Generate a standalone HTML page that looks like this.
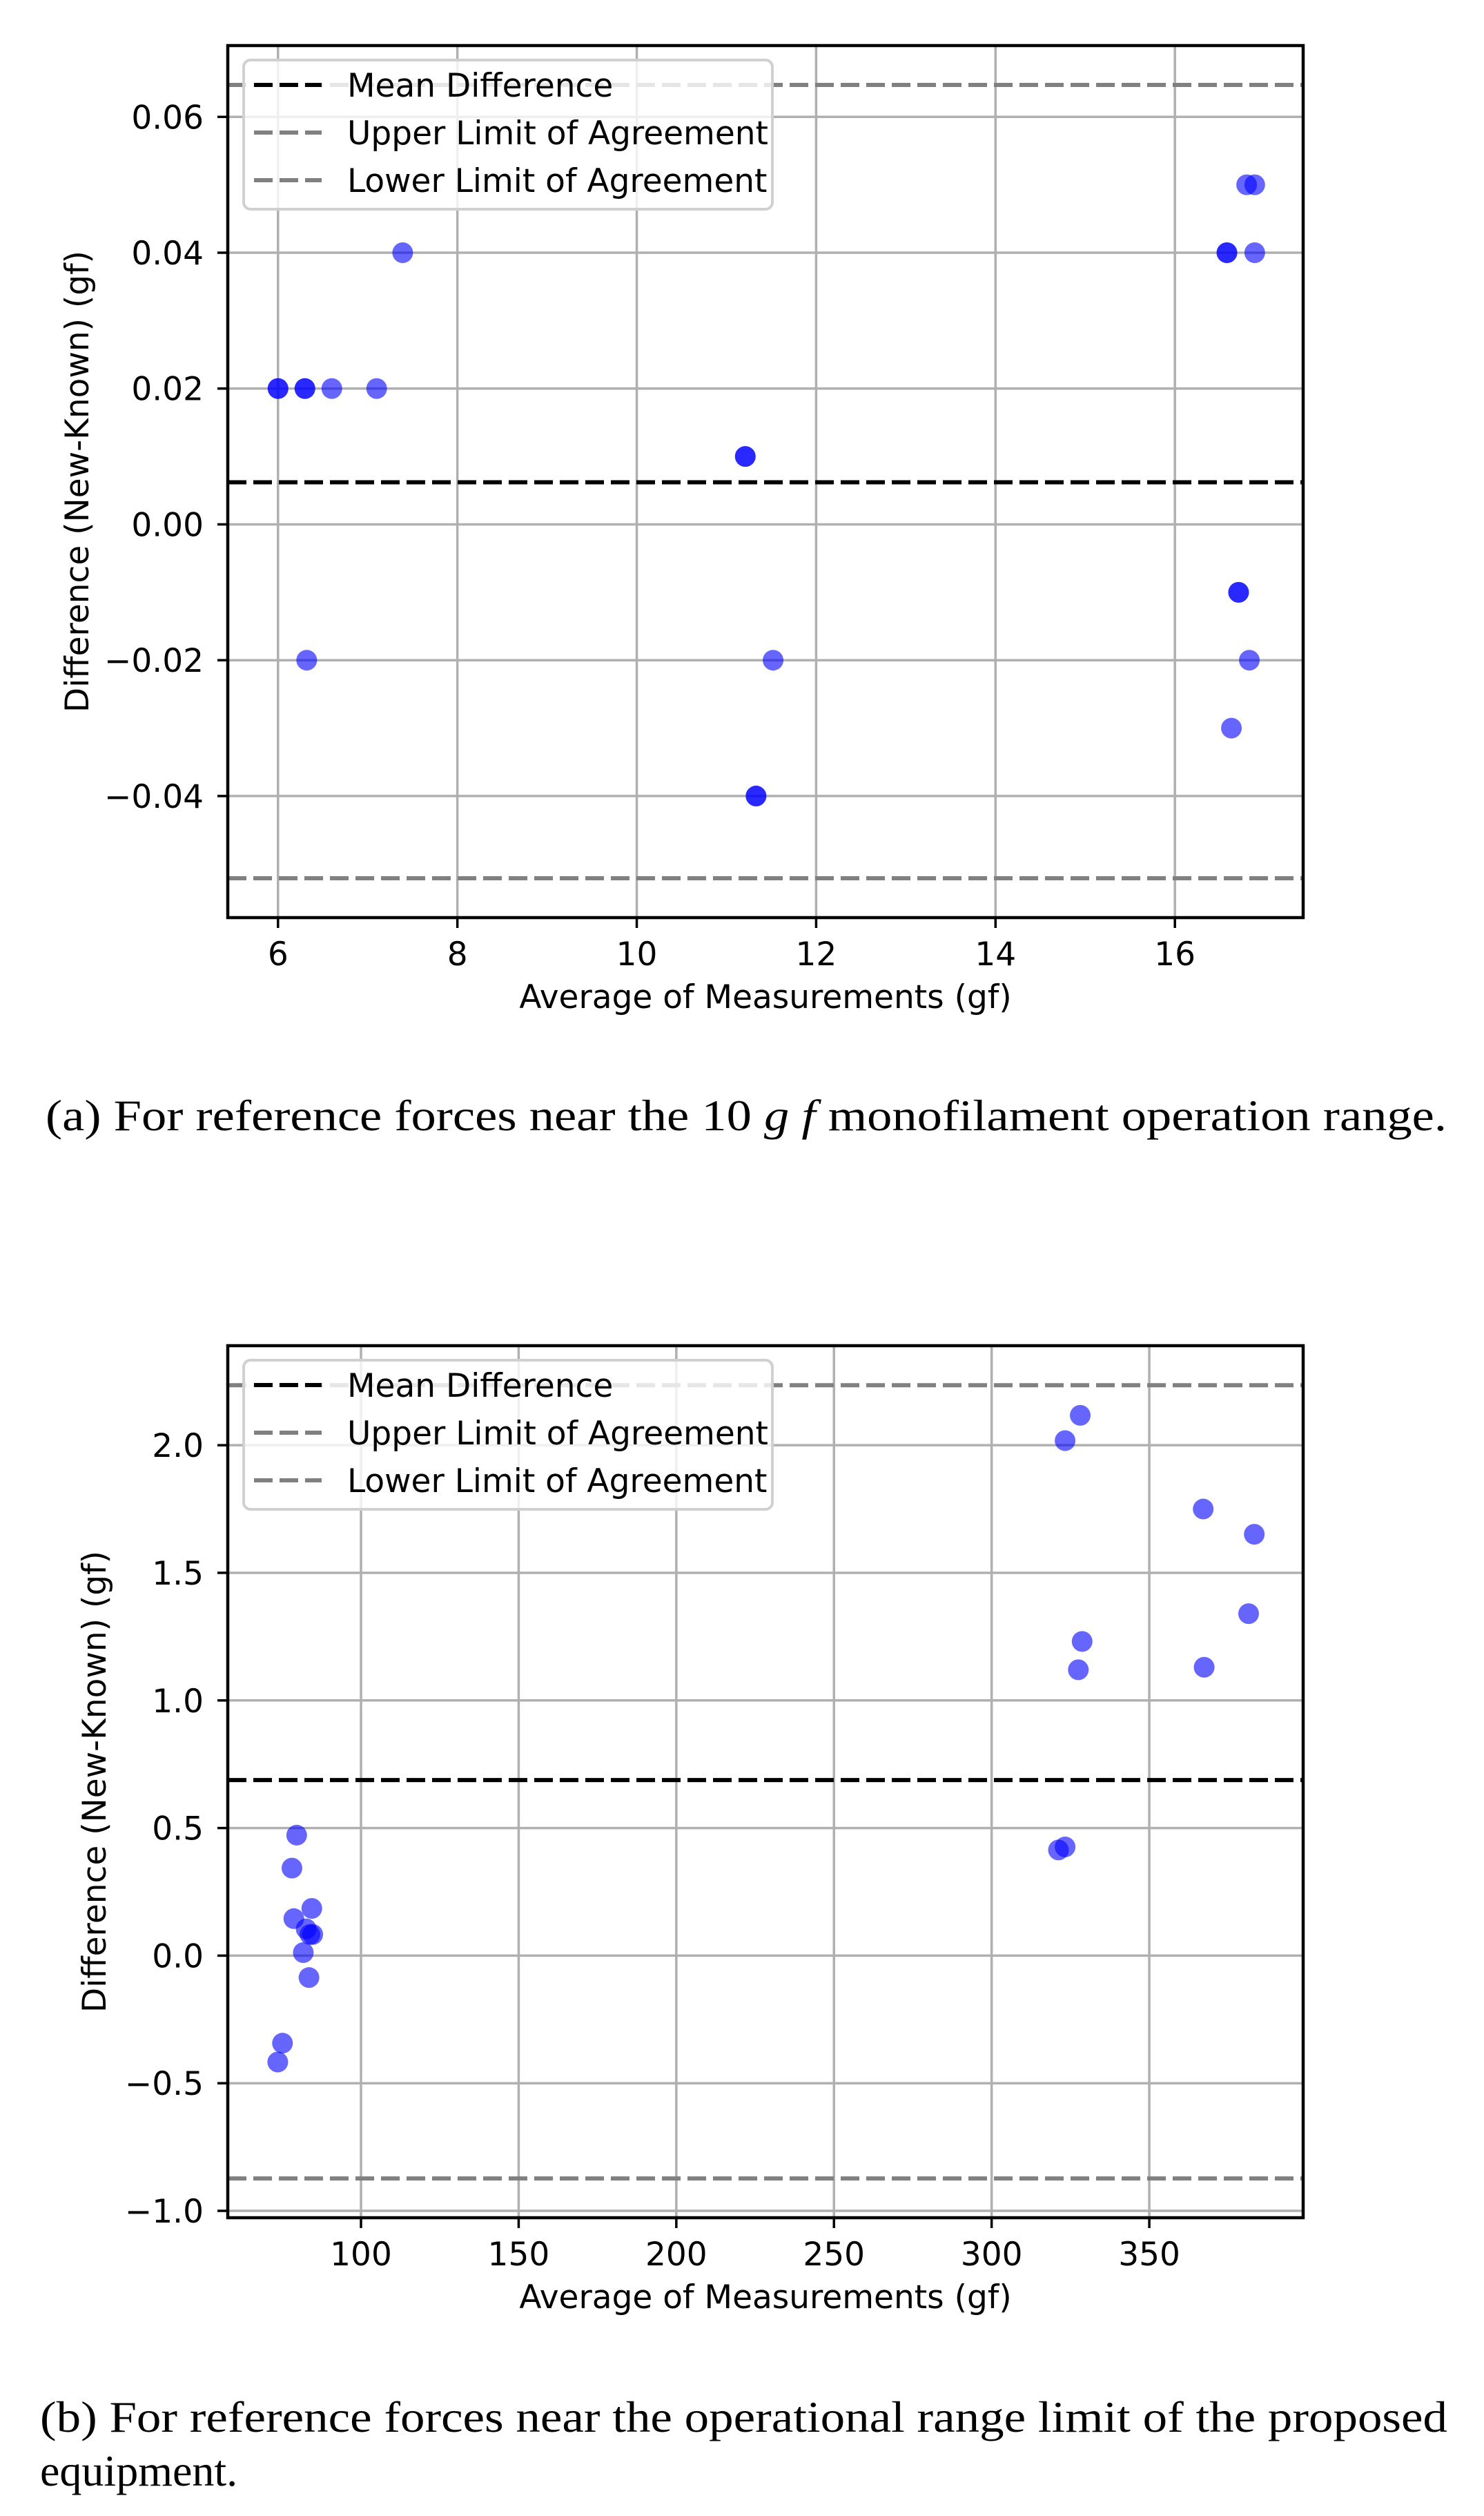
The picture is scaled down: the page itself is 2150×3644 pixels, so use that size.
<!DOCTYPE html>
<html><head><meta charset="utf-8"><style>
html,body{margin:0;padding:0;background:#fff;}
svg{display:block;}
text{font-family:"DejaVu Sans","Liberation Sans",sans-serif;}
.cap{font-family:"Liberation Serif",serif;}
</style></head><body>
<svg id="fig" width="2150" height="3644" viewBox="0 0 2150 3644" xmlns="http://www.w3.org/2000/svg">
<text class="cap" x="66" y="1637" font-size="64" textLength="2030" lengthAdjust="spacingAndGlyphs">(a)  For reference forces near the 10 <tspan font-style="italic">g f</tspan> monofilament operation range.</text>
<text class="cap" x="58" y="3522" font-size="64" textLength="2039" lengthAdjust="spacingAndGlyphs">(b)  For reference forces near the operational range limit of the proposed</text>
<text class="cap" x="58" y="3600" font-size="64">equipment.</text>
</svg>
<script>
// Chart A data
const aX = [6.0, 6.0, 6.3, 6.3, 6.6, 7.1, 7.39, 6.32, 11.21, 11.21, 11.52, 11.33, 11.33, 16.58, 16.58, 16.89, 16.8, 16.89, 16.71, 16.71, 16.83, 16.63];
const aY = [0.02, 0.02, 0.02, 0.02, 0.02, 0.02, 0.04, -0.02, 0.01, 0.01, -0.02, -0.04, -0.04, 0.04, 0.04, 0.04, 0.05, 0.05, -0.01, -0.01, -0.02, -0.03];
const aMean = 0.0062, aUpper = 0.0647, aLower = -0.0521;
const aXTicks = [6, 8, 10, 12, 14, 16];
const aYTicks = [-0.04, -0.02, 0.00, 0.02, 0.04, 0.06];
const aYTickLabels = ["\u22120.04", "\u22120.02", "0.00", "0.02", "0.04", "0.06"];
// Chart B data
const bX = [73.6, 75.1, 79.6, 78.1, 78.7, 82.6, 83.8, 84.7, 84.4, 81.7, 83.5, 321.2, 323.3, 323.3, 328.1, 328.7, 327.5, 367.1, 367.4, 383.3, 381.5];
const bY = [-0.417, -0.343, 0.472, 0.343, 0.145, 0.105, 0.083, 0.083, 0.185, 0.012, -0.086, 0.414, 0.426, 2.018, 2.117, 1.231, 1.12, 1.75, 1.13, 1.651, 1.34];
const bMean = 0.688, bUpper = 2.235, bLower = -0.873;
const bXTicks = [100, 150, 200, 250, 300, 350];
const bYTicks = [-1.0, -0.5, 0.0, 0.5, 1.0, 1.5, 2.0];
const bYTickLabels = ["\u22121.0", "\u22120.5", "0.0", "0.5", "1.0", "1.5", "2.0"];

const NS = "http://www.w3.org/2000/svg";
const svg = document.getElementById('fig');
function mk(tag, attrs, parent){const e=document.createElementNS(NS,tag);for(const k in attrs)e.setAttribute(k,attrs[k]);(parent||svg).appendChild(e);return e;}

function chart(cfg){
  const g = mk('g',{});
  
  
  const L=330,R=1888,T=cfg.top,B=cfg.bottom;
  const sx=v=>L+(v-cfg.xmin)/(cfg.xmax-cfg.xmin)*(R-L);
  const sy=v=>B-(v-cfg.ymin)/(cfg.ymax-cfg.ymin)*(B-T);
  cfg.xt.forEach(v=>{const l=mk('line',{x1:sx(v),x2:sx(v),y1:T,y2:B,stroke:'#b0b0b0','stroke-width':3.5},g);
    
    });
  cfg.yt.forEach(v=>{const l=mk('line',{x1:L,x2:R,y1:sy(v),y2:sy(v),stroke:'#b0b0b0','stroke-width':3.5},g);
    
    });
  [[cfg.mean,'#000','mean-difference-line'],[cfg.up,'#808080','upper-limit-line'],[cfg.lo,'#808080','lower-limit-line']].forEach(a=>{
    const l=mk('line',{x1:L,x2:R,y1:sy(a[0]),y2:sy(a[0]),stroke:a[1],'stroke-width':6,'stroke-dasharray':'27 10'},g);
    
    
  });
  cfg.px.forEach((x,i)=>{const c=mk('circle',{cx:sx(x),cy:sy(cfg.py[i]),r:15,fill:'#0000ff','fill-opacity':0.6},g);
    
    });
  const fr=mk('rect',{x:L,y:T,width:R-L,height:B-T,fill:'none',stroke:'#000','stroke-width':4.5},g);
  
  
  cfg.xt.forEach(v=>{mk('line',{x1:sx(v),x2:sx(v),y1:B,y2:B+15,stroke:'#000','stroke-width':3.5},g);
    const t=mk('text',{x:sx(v),y:cfg.xtlY,'font-size':47,'text-anchor':'middle'},g);t.textContent=String(v);
    
    });
  cfg.yt.forEach((v,i)=>{mk('line',{x1:L-15,x2:L,y1:sy(v),y2:sy(v),stroke:'#000','stroke-width':3.5},g);
    const t=mk('text',{x:295,y:sy(v)+17,'font-size':47,'text-anchor':'end'},g);t.textContent=cfg.ytl[i];
    
    });
  const xl=mk('text',{x:1109,y:cfg.xlY,'font-size':47,'text-anchor':'middle'},g);xl.textContent='Average of Measurements (gf)';
  
  
  const cy=(T+B)/2;
  const yl=mk('text',{x:cfg.ylX,y:cy,'font-size':47,'text-anchor':'middle',transform:`rotate(-90 ${cfg.ylX} ${cy})`},g);yl.textContent='Difference (New-Known) (gf)';
  
  
  const lg=mk('g',{},g);
  
  
  const lt=T+21;
  mk('rect',{x:353,y:lt,width:766,height:216,rx:10,fill:'#fff','fill-opacity':0.8,stroke:'#d0d0d0','stroke-width':4},lg);
  [['Mean Difference','#000'],['Upper Limit of Agreement','#808080'],['Lower Limit of Agreement','#808080']].forEach((e,i)=>{
    const y=lt+36+i*69;
    mk('line',{x1:368,x2:466,y1:y,y2:y,stroke:e[1],'stroke-width':6,'stroke-dasharray':'27 10'},lg);
    const t=mk('text',{x:503,y:y+17,'font-size':47},lg);t.textContent=e[0];
    
    
  });
}
chart({name:'chart-a',top:66,bottom:1329,xmin:5.44,xmax:17.43,ymin:-0.0579,ymax:0.0705,px:aX,py:aY,mean:aMean,up:aUpper,lo:aLower,xt:aXTicks,yt:aYTicks,ytl:aYTickLabels,xtlY:1398,xlY:1460,ylX:128});
chart({name:'chart-b',top:1949,bottom:3212,xmin:57.75,xmax:398.8,ymin:-1.027,ymax:2.39,px:bX,py:bY,mean:bMean,up:bUpper,lo:bLower,xt:bXTicks,yt:bYTicks,ytl:bYTickLabels,xtlY:3281,xlY:3343,ylX:153});
</script>
</body></html>
